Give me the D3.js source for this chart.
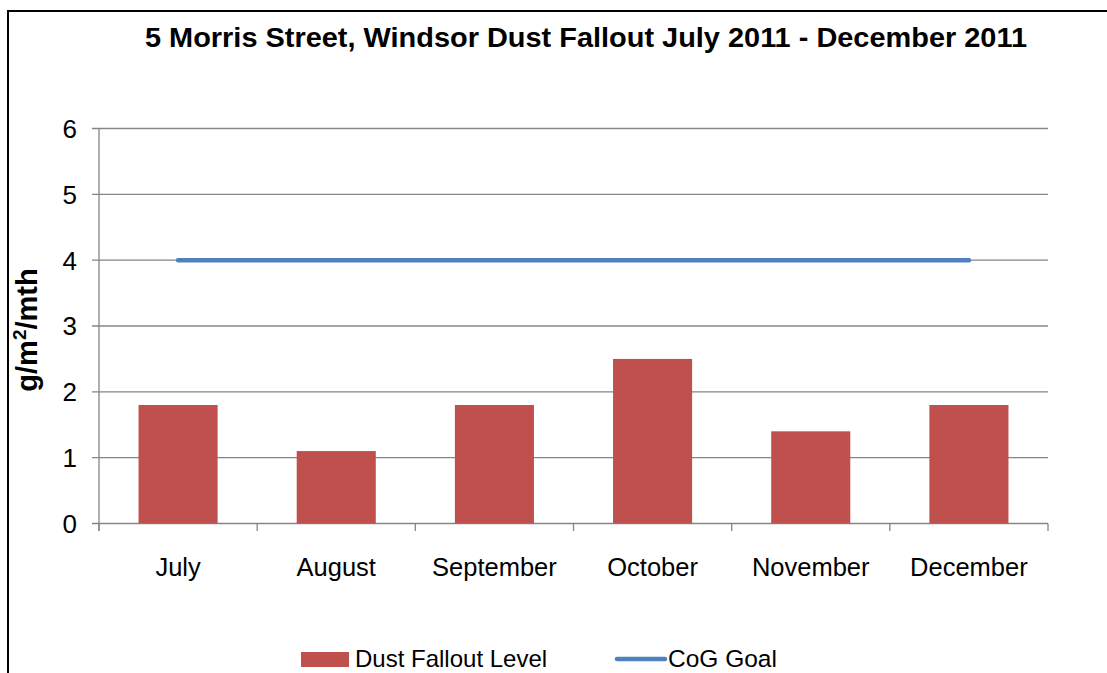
<!DOCTYPE html>
<html>
<head>
<meta charset="utf-8">
<script src="https://cdn.jsdelivr.net/npm/d3@7"></script>
<style>
  body { margin: 0; background: #fff; }
  svg { display: block; font-family: Arial, "Liberation Sans", sans-serif; }
</style>
</head>
<body>
<svg id="chart" width="1107" height="673"></svg>
<script>
const months = ["July", "August", "September", "October", "November", "December"];
const dustLevels = [1.8, 1.1, 1.8, 2.5, 1.4, 1.8];
const cogGoal = [4, 4, 4, 4, 4, 4];
const yTicks = [0, 1, 2, 3, 4, 5, 6];
const titleText = "5 Morris Street, Windsor Dust Fallout July 2011 - December 2011";
const legendNames = ["Dust Fallout Level", "CoG Goal"];

const svg = d3.select("#chart");
const gridColor = "#868686";
const barColor = "#C0504D";
const lineColor = "#4F81BD";

// frame (top and left edges visible)
svg.append("path")
    .attr("d", "M8,673 V11 H1107")
    .attr("fill", "none")
    .attr("stroke", "#000")
    .attr("stroke-width", 2);

const x = d3.scaleBand().domain(months).range([99, 1048]).paddingInner(0.5).paddingOuter(0.25);
const xOuter = d3.scaleBand().domain(months).range([99, 1048]);
const y = d3.scaleLinear().domain([0, 6]).range([523.5, 128.5]);

// gridlines
svg.append("g")
    .selectAll("line")
    .data(yTicks)
    .join("line")
    .attr("x1", 92)
    .attr("x2", 1048)
    .attr("y1", d => y(d))
    .attr("y2", d => y(d))
    .attr("stroke", gridColor)
    .attr("stroke-width", 1.3);

// y axis line
svg.append("line")
    .attr("x1", 99).attr("x2", 99)
    .attr("y1", y(6)).attr("y2", 531)
    .attr("stroke", gridColor).attr("stroke-width", 1.3);

// x category ticks
svg.append("g")
    .selectAll("line")
    .data(months.concat(["end"]))
    .join("line")
    .attr("x1", (d, i) => i < months.length ? xOuter(d) : xOuter.range()[1])
    .attr("x2", (d, i) => i < months.length ? xOuter(d) : xOuter.range()[1])
    .attr("y1", y(0))
    .attr("y2", 531)
    .attr("stroke", gridColor)
    .attr("stroke-width", 1.3);

// bars
svg.append("g")
    .selectAll("rect")
    .data(dustLevels)
    .join("rect")
    .attr("x", (d, i) => x(months[i]))
    .attr("y", d => y(d))
    .attr("width", x.bandwidth())
    .attr("height", d => y(0) - y(d))
    .attr("fill", barColor);

// goal line
svg.append("path")
    .datum(cogGoal)
    .attr("fill", "none")
    .attr("stroke", lineColor)
    .attr("stroke-width", 4.5)
    .attr("stroke-linecap", "round")
    .attr("d", d3.line()
        .x((d, i) => x(months[i]) + x.bandwidth() / 2)
        .y(d => y(d)));

// y tick labels
svg.append("g")
    .selectAll("text")
    .data(yTicks)
    .join("text")
    .attr("x", 77)
    .attr("y", d => y(d))
    .attr("dy", "0.36em")
    .attr("text-anchor", "end")
    .attr("font-size", 26)
    .text(d => d);

// x labels
svg.append("g")
    .selectAll("text")
    .data(months)
    .join("text")
    .attr("x", d => x(d) + x.bandwidth() / 2)
    .attr("y", 576)
    .attr("text-anchor", "middle")
    .attr("font-size", 25.5)
    .text(d => d);

// title
svg.append("text")
    .attr("x", 586)
    .attr("y", 47)
    .attr("text-anchor", "middle")
    .attr("font-size", 28.5)
    .attr("font-weight", "bold")
    .attr("textLength", 882)
    .attr("lengthAdjust", "spacingAndGlyphs")
    .text(titleText);

// y axis title
const yt = svg.append("text")
    .attr("transform", "translate(37,330) rotate(-90)")
    .attr("text-anchor", "middle")
    .attr("font-size", 29)
    .attr("font-weight", "bold");
yt.append("tspan").text("g/m");
yt.append("tspan").attr("font-size", 19).attr("dy", -11).text("2");
yt.append("tspan").attr("dy", 11).text("/mth");

// legend
svg.append("rect")
    .attr("x", 301).attr("y", 652)
    .attr("width", 48).attr("height", 15)
    .attr("fill", barColor);
svg.append("text")
    .attr("x", 355).attr("y", 667)
    .attr("font-size", 24)
    .text(legendNames[0]);
svg.append("line")
    .attr("x1", 617).attr("x2", 665)
    .attr("y1", 659).attr("y2", 659)
    .attr("stroke", lineColor)
    .attr("stroke-width", 4.5)
    .attr("stroke-linecap", "round");
svg.append("text")
    .attr("x", 668).attr("y", 667)
    .attr("font-size", 24.5)
    .text(legendNames[1]);
</script>
</body>
</html>
